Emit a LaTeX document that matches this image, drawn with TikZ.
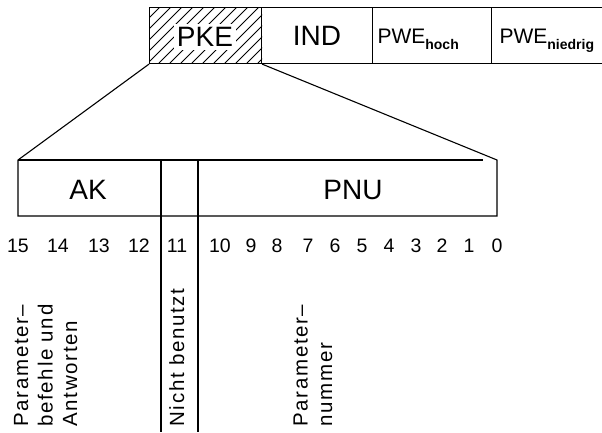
\documentclass[tikz,border=0pt]{standalone}
\usepackage{fontspec}
\setmainfont{Liberation Sans}
\newfontfamily\spacedfont[LetterSpace=8]{Liberation Sans}
\newcommand{\lowsub}[1]{\raisebox{-6pt}{\fontsize{14}{14}\selectfont\bfseries #1}}

\begin{document}
\begin{tikzpicture}[x=1pt,y=1pt,line width=1.1pt,
    field/.style={draw,minimum height=56pt,inner sep=0pt,anchor=north west},
    big/.style={font=\fontsize{28}{30}\selectfont},
    pwe/.style={font=\fontsize{21}{22}\selectfont,anchor=base west,inner sep=0pt},
    bit/.style={font=\fontsize{19.5}{20}\selectfont,anchor=base,inner sep=0pt},
    vlabel/.style={font=\spacedfont\fontsize{20.5}{24.5}\selectfont,rotate=90,
      anchor=base west,align=left,inner sep=0pt}]
    \clip (0,0) rectangle (602,-432);
    % Telegram fields
    \node[field,minimum width=112pt] (pke) at (149,-7) {};
    \begin{scope}
        \clip (pke.south west) rectangle (pke.north east);
        \foreach \x in {82,93,...,270}
            \draw[line width=0.8pt] (\x,-63) -- ++(56,56);
    \end{scope}
    \node[big,fill=white,inner sep=3pt] (pkename) at (205,-37) {PKE};
    \node[field,big,minimum width=111pt] (ind) at (261,-7) {IND};
    \node[field,minimum width=119pt] (hoch) at (372,-7) {};
    \node[field,minimum width=150pt] (niedrig) at (491,-7) {};
    \node[pwe] (hochname) at (377,-43) {PWE\lowsub{hoch}};
    \node[pwe] (niedrigname) at (499,-43) {PWE\lowsub{niedrig}};
    % PKE split into bits
    \coordinate (topleft) at (18,-160);
    \coordinate (topright) at (497,-160);
    \draw (pke.south west) -- (topleft) -- (18,-216) -- (497,-216) -- (topright) -- (pke.south east);
    \draw (topleft) -- (483,-160);
    \draw (161,-160) -- (161,-432);
    \draw (198,-160) -- (198,-432);
    \node[big,anchor=base] (ak) at (88,-199) {AK};
    \node[big,anchor=base] (pnu) at (353,-199) {PNU};
    % Bit numbers
    \foreach \b/\x in {15/18,14/58,13/99,12/139,11/177,10/220,9/251,8/277,
                       7/308,6/335,5/362,4/389,3/416,2/442,1/469,0/497}
        \node[bit] (bit\b) at (\x,-252) {\b};
    % Meaning of the bit groups (base = last line)
    \node[vlabel] (akinfo) at (77,-427) {Parameter–\\befehle und\\Antworten};
    \node[vlabel] (unused) at (184,-427) {Nicht benutzt};
    \node[vlabel] (pnuinfo) at (332,-427) {Parameter–\\nummer};
\end{tikzpicture}
\end{document}
